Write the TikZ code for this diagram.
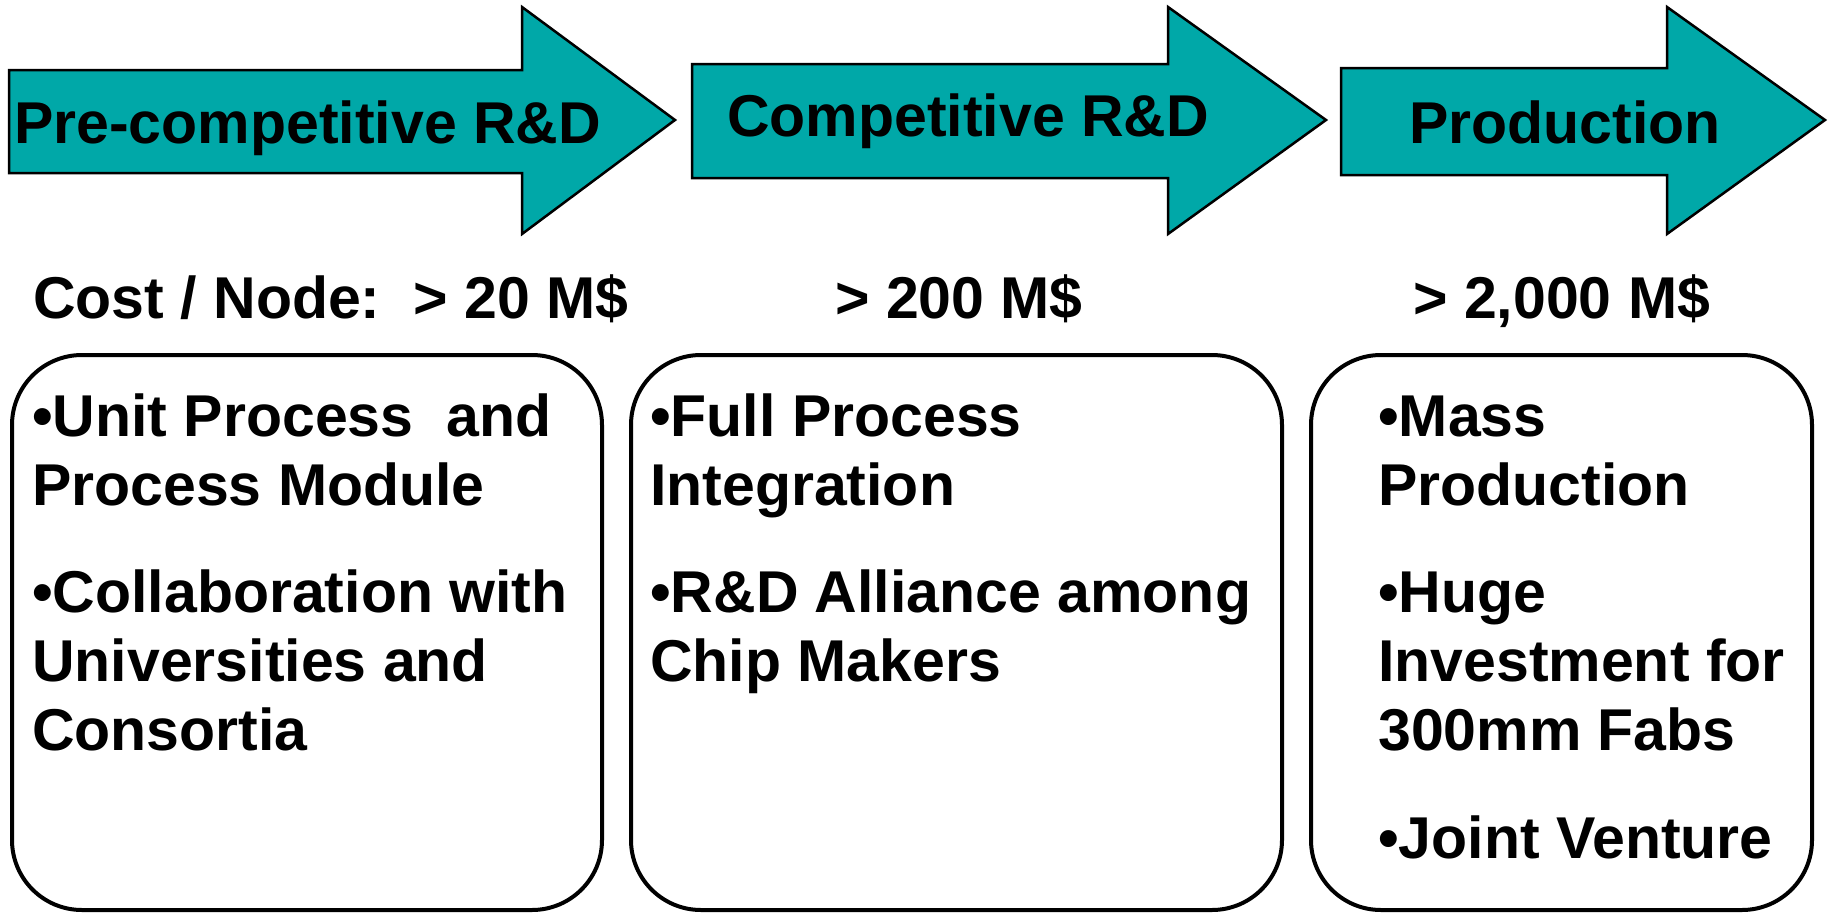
\documentclass[tikz,border=0pt]{standalone}
\usepackage{fontspec}
\setmainfont{Liberation Sans}
\definecolor{arrowteal}{RGB}{0,168,168}
\begin{document}
\begin{tikzpicture}[x=1pt,y=-1pt,
  phase/.style={draw=black,line width=2.5pt,fill=arrowteal,line join=miter},
  phaselabel/.style={anchor=base west,inner sep=0pt,font=\fontsize{59}{69}\selectfont\bfseries},
  costlabel/.style={anchor=base west,inner sep=0pt,font=\fontsize{59}{69}\selectfont\bfseries},
  infobox/.style={draw=black,line width=4pt,rounded corners=70pt,rectangle,minimum height=555pt,inner sep=0pt},
  boxline/.style={anchor=base west,inner sep=0pt,font=\fontsize{59}{69}\selectfont\bfseries}]
\useasboundingbox (0,0) rectangle (1832,913);
% arrows
\draw[phase] (9,70) -- (522,70) -- (522,7) -- (675,120) -- (522,234) -- (522,173) -- (9,173) -- cycle;
\draw[phase] (692,64) -- (1168,64) -- (1168,7) -- (1326,120) -- (1168,234) -- (1168,178) -- (692,178) -- cycle;
\draw[phase] (1341,68) -- (1667,68) -- (1667,7) -- (1825,120) -- (1667,234) -- (1667,175) -- (1341,175) -- cycle;
\node[phaselabel] (p1) at (14,143) {Pre-competitive R\&D};
\node[phaselabel] (p2) at (727,136) {Competitive R\&D};
\node[phaselabel] (p3) at (1409,143) {Production};
% costs
\node[costlabel] (c1) at (33,318) {Cost / Node:\ \ > 20 M\$};
\node[costlabel] (c2) at (835,318) {> 200 M\$};
\node[costlabel] (c3) at (1413,318) {> 2,000 M\$};
% boxes
\node[infobox,minimum width=590pt] (b1) at (307,632.5) {};
\node[infobox,minimum width=651pt] (b2) at (956.5,632.5) {};
\node[infobox,minimum width=501pt] (b3) at (1561.5,632.5) {};
% box 1 text
\node[boxline] (t11) at (32,436) {•Unit Process\ \ and};
\node[boxline] (t12) at (32,505) {Process Module};
\node[boxline] (t13) at (32,612) {•Collaboration with};
\node[boxline] (t14) at (32,681) {Universities and};
\node[boxline] (t15) at (32,750) {Consortia};
% box 2 text
\node[boxline] (t21) at (650,436) {•Full Process};
\node[boxline] (t22) at (650,505) {Integration};
\node[boxline] (t23) at (650,612) {•R\&D Alliance among};
\node[boxline] (t24) at (650,681) {Chip Makers};
% box 3 text
\node[boxline] (t31) at (1378,436) {•Mass};
\node[boxline] (t32) at (1378,505) {Production};
\node[boxline] (t33) at (1378,612) {•Huge};
\node[boxline] (t34) at (1378,681) {Investment for};
\node[boxline] (t35) at (1378,750) {300mm Fabs};
\node[boxline] (t36) at (1378,858) {•Joint Venture};
\end{tikzpicture}
\end{document}
